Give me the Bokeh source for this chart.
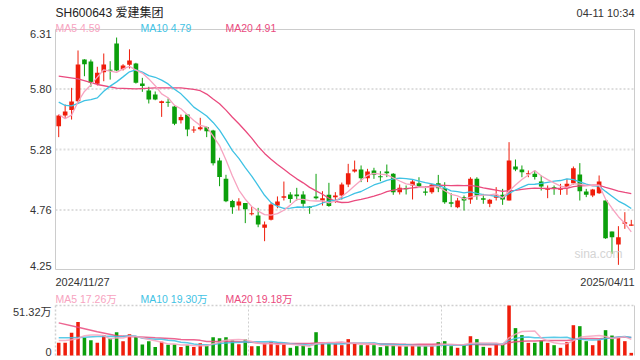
import pandas as pd
from bokeh.plotting import figure
from bokeh.models import Range1d, Label, ColumnDataSource
from bokeh.embed import file_html
from bokeh.resources import INLINE

# ---------------- data ----------------
title_text = "SH600643 爱建集团"
time_text = "04-11 10:34"
start_date = "2024/11/27"
end_date = "2025/04/11"
price_ticks = [6.31, 5.80, 5.28, 4.76, 4.25]
price_tick_labels = ["6.31", "5.80", "5.28", "4.76", "4.25"]
vol_top = 51.32
vol_tick_labels = ["51.32万", "0"]
ma_labels = ["MA5 4.59", "MA10 4.79", "MA20 4.91"]
vol_ma_labels = ["MA5 17.26万", "MA10 19.30万", "MA20 19.18万"]
watermark = "sina.com"

opens = [5.48, 5.572, 5.618, 5.695, 6.052, 6.035, 5.844, 5.944, 5.964, 6.19,
         5.968, 6.008, 6.018, 5.846, 5.786, 5.752, 5.68, 5.689, 5.649, 5.532,
         5.58, 5.443, 5.454, 5.472, 5.443, 5.186, 5.028, 4.839, 4.799, 4.82,
         4.725, 4.713, 4.608, 4.676, 4.799, 4.865, 4.894, 4.894, 4.894, 4.791,
         4.877, 4.842, 4.891, 4.871, 4.885, 4.98, 5.091, 5.108, 5.034, 5.1,
         5.048, 5.091, 5.071, 4.914, 4.948, 4.971, 4.99, 4.92, 4.914, 4.99,
         4.948, 4.828, 4.785, 4.871, 4.851, 5.028, 4.862, 4.814, 4.865, 4.891,
         4.842, 5.134, 5.108, 5.068, 5.071, 5.005, 4.934, 4.957, 4.934, 4.951,
         4.991, 5.065, 4.92, 4.885, 4.905, 4.842, 4.576, 4.464, 4.642, 4.625]
closes = [5.572, 5.606, 5.692, 6.01, 6.012, 5.852, 5.938, 6.01, 5.955, 5.958,
          6.001, 6.044, 5.852, 5.824, 5.709, 5.709, 5.695, 5.683, 5.50, 5.56,
          5.452, 5.452, 5.472, 5.437, 5.163, 5.043, 4.836, 4.785, 4.834, 4.768,
          4.733, 4.636, 4.636, 4.808, 4.834, 4.879, 4.856, 4.879, 4.814, 4.779,
          4.862, 4.862, 4.794, 4.885, 4.98, 5.077, 5.108, 5.034, 5.091, 5.063,
          5.043, 5.077, 4.914, 4.951, 4.94, 5.005, 4.965, 4.908, 4.979, 4.948,
          4.828, 4.814, 4.842, 4.842, 5.028, 4.885, 4.848, 4.848, 4.885, 4.851,
          5.186, 5.108, 5.085, 5.077, 5.043, 4.962, 4.942, 4.942, 4.942, 4.985,
          5.12, 4.922, 4.891, 4.937, 5.005, 4.519, 4.527, 4.527, 4.656, 4.636]
highs = [5.58, 5.666, 5.809, 6.13, 6.055, 6.052, 5.99, 6.104, 6.038, 6.241,
         6.012, 6.14, 6.024, 5.895, 5.818, 5.778, 5.70, 5.718, 5.658, 5.58,
         5.58, 5.48, 5.552, 5.477, 5.449, 5.209, 5.063, 4.848, 4.862, 4.82,
         4.791, 4.779, 4.662, 4.819, 4.877, 5.005, 4.914, 4.951, 4.922, 4.795,
         5.071, 4.922, 4.994, 4.914, 4.996, 5.157, 5.185, 5.143, 5.114, 5.123,
         5.094, 5.151, 5.077, 4.98, 4.971, 5.022, 5.042, 4.962, 4.985, 5.062,
         4.999, 4.905, 4.865, 4.885, 5.042, 5.042, 4.899, 4.856, 4.957, 4.942,
         5.343, 5.194, 5.143, 5.10, 5.10, 5.057, 4.971, 4.971, 4.985, 5.028,
         5.134, 5.163, 4.942, 4.942, 5.057, 4.842, 4.576, 4.622, 4.742, 4.676]
lows = [5.386, 5.543, 5.537, 5.68, 5.909, 5.818, 5.83, 5.866, 5.88, 5.952,
        5.958, 5.975, 5.846, 5.775, 5.675, 5.703, 5.56, 5.646, 5.489, 5.503,
        5.394, 5.423, 5.443, 5.386, 5.143, 4.965, 4.828, 4.728, 4.756, 4.648,
        4.714, 4.613, 4.493, 4.671, 4.776, 4.842, 4.822, 4.842, 4.776, 4.728,
        4.851, 4.799, 4.788, 4.822, 4.85, 4.957, 5.082, 5.0, 5.0, 5.028,
        5.008, 5.043, 4.891, 4.894, 4.894, 4.851, 4.951, 4.885, 4.90, 4.914,
        4.814, 4.785, 4.776, 4.756, 4.814, 4.848, 4.814, 4.785, 4.842, 4.805,
        4.842, 5.094, 5.042, 5.042, 5.022, 4.928, 4.862, 4.891, 4.891, 4.891,
        4.979, 4.842, 4.871, 4.871, 4.899, 4.513, 4.384, 4.29, 4.599, 4.625]
volumes = [13.0, 13.0, 23.3, 34.5, 18.1, 15.7, 13.0, 20.9, 17.4, 23.9,
           14.7, 21.9, 19.2, 11.3, 14.7, 8.6, 14.0, 11.0, 11.3, 8.6,
           10.6, 8.6, 12.7, 9.9, 18.8, 17.8, 18.8, 15.4, 11.6, 16.4,
           9.6, 9.6, 12.0, 14.0, 11.3, 12.0, 7.9, 9.6, 10.6, 7.9,
           23.9, 12.0, 12.0, 12.0, 10.6, 16.8, 12.7, 10.6, 10.6, 10.6,
           8.6, 10.6, 10.6, 9.6, 9.6, 11.0, 9.6, 9.6, 9.6, 13.7,
           14.7, 9.6, 7.9, 10.6, 19.8, 16.8, 8.9, 7.9, 11.3, 11.3,
           51.32, 28.1, 20.9, 13.0, 13.0, 15.4, 13.0, 10.6, 7.9, 13.7,
           31.1, 30.1, 14.7, 10.6, 15.7, 26.0, 20.5, 18.8, 14.7, 2.7]

# moving-average lead-in values (before a full window exists)
ma5_head_idx, ma5_head = [0, 1, 2, 3], [5.58, 5.545, 5.575, 5.69]
ma10_head_idx, ma10_head = [0, 1, 2, 3, 4, 5, 6, 7, 8], [5.686, 5.658, 5.655, 5.675, 5.70, 5.709, 5.723, 5.78, 5.824]
ma20_head_idx, ma20_head = [0, 3, 6, 9, 12, 15, 18], [5.909, 5.887, 5.838, 5.806, 5.80, 5.809, 5.809]
vma5_head_idx, vma5_head = [0, 1, 2, 3], [15.4, 15.4, 16.1, 17.4]
vma10_head_idx, vma10_head = [0, 2, 4, 6, 8], [18.1, 18.1, 18.8, 19.5, 19.8]
vma20_head_idx, vma20_head = [0, 3, 6, 9, 12, 15, 18], [33.5, 29.1, 24.3, 20.2, 19.2, 18.1, 17.1]

# ---------------- layout / styles ----------------
W, H = 640, 360
PX_L, PX_R = 55, 634          # panel left / right (px)
PP_T, PP_B = 29, 269          # price panel top / bottom (px)
VP_T, VP_B = 305, 355         # volume panel top / bottom (px)

UP = "#ef1d0b"
DOWN = "#0b9f0b"
C_MA5 = "#f7a3c0"
C_MA10 = "#3fc2e4"
C_MA20 = "#ea4a7e"
FONT = "Liberation Sans, Noto Sans CJK SC"
TXT = "#333333"
FRAME = "#cccccc"

n = len(closes)
xs = list(range(n))
colors = [UP if c >= o else DOWN for o, c in zip(opens, closes)]
tops, bots = [], []
for o, c in zip(opens, closes):
    t, b = max(o, c), min(o, c)
    if t - b < 0.009:
        m = (t + b) / 2
        t, b = m + 0.0045, m - 0.0045
    tops.append(t)
    bots.append(b)
src = ColumnDataSource(dict(x=xs, top=tops, bottom=bots, high=highs, low=lows,
                            color=colors, vol=volumes))

# ranges so that each panel lands at its pixel box inside one full-canvas frame
x0, x1 = -0.5, n - 0.5
ux = (x1 - x0) / (PX_R - PX_L)
pmax, pmin = price_ticks[0], price_ticks[-1]
up_ = (pmax - pmin) / (PP_B - PP_T)
uv = vol_top / (VP_B - VP_T)

p = figure(width=W, height=H,
           x_range=Range1d(x0 - PX_L * ux, x1 + (W - PX_R) * ux),
           y_range=Range1d(pmin - (H - PP_B) * up_, pmax + PP_T * up_),
           output_backend="svg", toolbar_location=None,
           x_axis_location=None, y_axis_location=None,
           min_border=0, min_border_left=0, min_border_right=0,
           min_border_top=0, min_border_bottom=0)
p.extra_y_ranges = {"vol": Range1d(0 - (H - VP_B) * uv, vol_top + VP_T * uv)}
p.title.visible = False
p.xgrid.visible = False
p.ygrid.visible = False
p.outline_line_color = None
p.background_fill_color = "white"
p.border_fill_color = "white"

# price panel grid + frame
for t in price_ticks[1:-1]:
    p.segment(x0=x0, y0=t, x1=x1, y1=t, line_color="#dedede", line_width=2, line_dash="2 2")
p.quad(left=x0, right=x1, bottom=pmin, top=pmax, fill_color=None, line_color=FRAME, line_width=1)

# volume panel frame
vk = dict(y_range_name="vol")
p.segment(x0=x0, y0=vol_top, x1=x1, y1=vol_top, line_color="#d0d0d0", line_width=1.5, line_dash="2 2", **vk)
p.segment(x0=x0, y0=0, x1=x1, y1=0, line_color="#d8d8d8", line_width=1, line_dash="1 2", **vk)
p.segment(x0=x0, y0=0, x1=x0, y1=vol_top, line_color="#d0d0d0", line_width=1.5, line_dash="2 2", **vk)
p.segment(x0=x1, y0=0, x1=x1, y1=vol_top, line_color=FRAME, line_width=1, **vk)
for loc in [n / 3 - 0.5, 2 * n / 3 - 0.5]:
    p.segment(x0=loc, y0=0, x1=loc, y1=vol_top, line_color="#cfcfcf", line_width=1, line_dash="2 2", **vk)

# candles
p.segment(x0="x", y0="low", x1="x", y1="high", color="color", line_width=1, source=src)
p.vbar(x="x", top="top", bottom="bottom", width=0.72, fill_color="color", line_color=None, source=src)


def ma_line(vals, win, head_idx, head_vals):
    s = pd.Series(vals).rolling(win).mean()
    return list(head_idx) + list(range(win - 1, len(vals))), list(head_vals) + list(s.iloc[win - 1:])


for (hi, hv, win, col) in [(ma20_head_idx, ma20_head, 20, C_MA20),
                           (ma10_head_idx, ma10_head, 10, C_MA10),
                           (ma5_head_idx, ma5_head, 5, C_MA5)]:
    mx, my = ma_line(closes, win, hi, hv)
    p.line(mx, my, line_color=col, line_width=1.3)

# volume bars + MAs
p.vbar(x="x", top="vol", bottom=0, width=0.55, fill_color="color", line_color=None, source=src, **vk)
for (hi, hv, win, col) in [(vma20_head_idx, vma20_head, 20, C_MA20),
                           (vma10_head_idx, vma10_head, 10, C_MA10),
                           (vma5_head_idx, vma5_head, 5, C_MA5)]:
    mx, my = ma_line(volumes, win, hi, hv)
    p.line(mx, my, line_color=col, line_width=1.5, line_alpha=0.85, **vk)


def lab(x, y, text, align="left", base="alphabetic", xo=0, yo=0, size="11px", color=TXT, rng="default"):
    p.add_layout(Label(x=x, y=y, text=text, text_align=align, text_baseline=base,
                       x_offset=xo, y_offset=yo, text_font=FONT, y_range_name=rng,
                       text_font_size=size, text_color=color))


for i, (t, s) in enumerate(zip(price_ticks, price_tick_labels)):
    base = "top" if i == 0 else ("bottom" if i == len(price_ticks) - 1 else "middle")
    lab(x0, t, s, align="right", base=base, xo=-4)

lab(x0, pmax, title_text, yo=17, size="12px", color="#222222")
lab(x1, pmax, time_text, align="right", yo=17, size="11px")
for txt, xo, col in zip(ma_labels, [0, 85, 170], [C_MA5, C_MA10, C_MA20]):
    lab(x0, pmax, txt, xo=xo, yo=2, size="10.5px", color=col)
lab(x0, pmin, start_date, yo=-12.5, size="11px")
lab(x1, pmin, end_date, align="right", yo=-12.5, size="11px")
for txt, xo, col in zip(vol_ma_labels, [0, 85, 170], [C_MA5, C_MA10, C_MA20]):
    lab(x0, pmin, txt, xo=xo, yo=-29, size="10.5px", color=col)
lab(x1, pmin, watermark, align="right", xo=-12, yo=16, size="12px", color="#d4d4d4")
lab(x0, vol_top, vol_tick_labels[0], align="right", base="top", xo=-4, rng="vol")
lab(x0, 0, vol_tick_labels[1], align="right", yo=3.5, xo=-4, rng="vol")

open("out.html", "w").write(file_html(p, INLINE))
